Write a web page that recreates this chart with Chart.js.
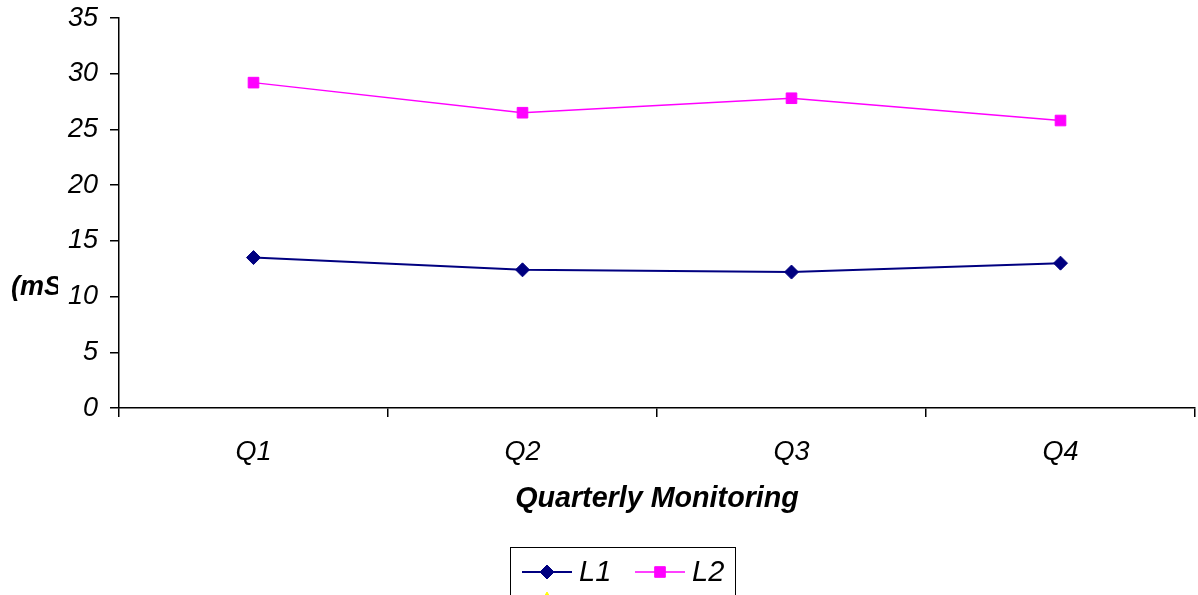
<!DOCTYPE html>
<html>
<head>
<meta charset="utf-8">
<script src="https://cdn.jsdelivr.net/npm/chart.js@4/dist/chart.umd.min.js"></script>
<style>
  html, body { margin: 0; padding: 0; background: #fff; }
  #wrap { width: 1198px; height: 595px; }
</style>
</head>
<body>
<div id="wrap"><canvas id="lineGraph" width="1198" height="595"></canvas></div>
<script>
// chart values
var quarters = ['Q1', 'Q2', 'Q3', 'Q4'];
var l1Values = [13.5, 12.4, 12.2, 13.0];
var l2Values = [29.2, 26.5, 27.8, 25.8];
var l3Values = [null, null, null, null];
var yTicks = [0, 5, 10, 15, 20, 25, 30, 35];

var FONT = '"Liberation Sans", Arial, sans-serif';

// y axis title, cut off by the tick labels like in the original
var yTitlePlugin = {
	id: 'yTitle',
	afterDraw: function(chart) {
		var ctx = chart.ctx;
		ctx.save();
		ctx.beginPath();
		ctx.rect(0, 0, 58, chart.height);
		ctx.clip();
		ctx.font = 'italic bold 27px ' + FONT;
		ctx.fillStyle = '#000';
		ctx.textBaseline = 'middle';
		ctx.textAlign = 'left';
		ctx.fillText('(mS/cm)', 11, 288);
		ctx.restore();
	}
};

// boxed legend at the bottom, two per row (second row runs off the canvas)
var boxLegendPlugin = {
	id: 'boxLegend',
	afterDraw: function(chart) {
		var ctx = chart.ctx;
		var sets = chart.data.datasets;
		var boxX = 510, boxY = 547, boxW = 225, rowH = 28;
		ctx.save();
		ctx.strokeStyle = '#000';
		ctx.lineWidth = 1;
		ctx.strokeRect(boxX + 0.5, boxY + 0.5, boxW, 80);
		ctx.font = 'italic 29px ' + FONT;
		ctx.textBaseline = 'middle';
		ctx.textAlign = 'left';
		for (var i = 0; i < sets.length; i++) {
			var ds = sets[i];
			var x = boxX + 12 + (i % 2) * 113;
			var y = boxY + 25 + Math.floor(i / 2) * rowH;
			ctx.strokeStyle = ds.borderColor;
			ctx.fillStyle = ds.backgroundColor;
			ctx.lineWidth = ds.borderWidth;
			ctx.beginPath();
			ctx.moveTo(x, y);
			ctx.lineTo(x + 50, y);
			ctx.stroke();
			ctx.lineWidth = 1;
			Chart.helpers.drawPoint(ctx, {
				pointStyle: ds.pointStyle,
				radius: ds.pointRadius,
				borderWidth: 1
			}, x + 25, y);
			ctx.fillStyle = '#000';
			ctx.fillText(ds.label, x + 57, y + 1);
		}
		ctx.restore();
	}
};

function lineGraph(id) {
	var ctx = document.getElementById(id).getContext('2d');
	var chart = new Chart(ctx, {
		type: 'line',
		data: {
			labels: quarters,
			datasets: [{
				label: 'L1',
				data: l1Values,
				borderColor: '#000080',
				backgroundColor: '#000080',
				borderWidth: 2,
				pointStyle: 'rectRot',
				pointRadius: 7,
				pointBorderWidth: 1,
				tension: 0
			}, {
				label: 'L2',
				data: l2Values,
				borderColor: '#ff00ff',
				backgroundColor: '#ff00ff',
				borderWidth: 1.5,
				pointStyle: 'rect',
				pointRadius: 7.5,
				pointBorderWidth: 1,
				tension: 0
			}, {
				// third series has no visible points, only its legend marker peeks in
				label: '',
				data: l3Values,
				borderColor: '#ffff00',
				backgroundColor: '#ffff00',
				borderWidth: 1.5,
				pointStyle: 'triangle',
				pointRadius: 8,
				tension: 0
			}]
		},
		options: {
			responsive: false,
			maintainAspectRatio: false,
			animation: false,
			layout: {
				autoPadding: false,
				padding: { left: 0, right: 3, top: 18, bottom: 78.2 }
			},
			plugins: {
				legend: { display: false },
				tooltip: { enabled: false }
			},
			scales: {
				x: {
					offset: true,
					grid: {
						offset: true,
						drawOnChartArea: false,
						drawTicks: true,
						tickLength: 9,
						color: '#000',
						lineWidth: 1.5
					},
					border: { display: true, color: '#000', width: 1.5 },
					ticks: {
						color: '#000',
						padding: 19,
						font: { family: FONT, size: 27, style: 'italic' }
					},
					title: {
						display: true,
						text: 'Quarterly Monitoring',
						color: '#000',
						padding: { top: 0, bottom: 0 },
						font: { family: FONT, size: 28.7, style: 'italic', weight: 'bold', lineHeight: 1.2 }
					},
					afterFit: function(scale) {
						scale.height = 108.8;
						scale.paddingLeft = 0;
						scale.paddingRight = 0;
					}
				},
				y: {
					min: 0,
					max: 35,
					afterBuildTicks: function(scale) {
						scale.ticks = yTicks.map(function(v) { return { value: v }; });
					},
					grid: {
						drawOnChartArea: false,
						drawTicks: true,
						tickLength: 9,
						color: '#000',
						lineWidth: 1.5
					},
					border: { display: true, color: '#000', width: 1.5 },
					ticks: {
						color: '#000',
						padding: 12,
						font: { family: FONT, size: 27, style: 'italic' }
					},
					afterFit: function(scale) {
						scale.width = 119;
						scale.paddingTop = 0;
						scale.paddingBottom = 0;
					}
				}
			}
		},
		plugins: [yTitlePlugin, boxLegendPlugin]
	});
	return chart;
}

lineGraph('lineGraph');
</script>
</body>
</html>
